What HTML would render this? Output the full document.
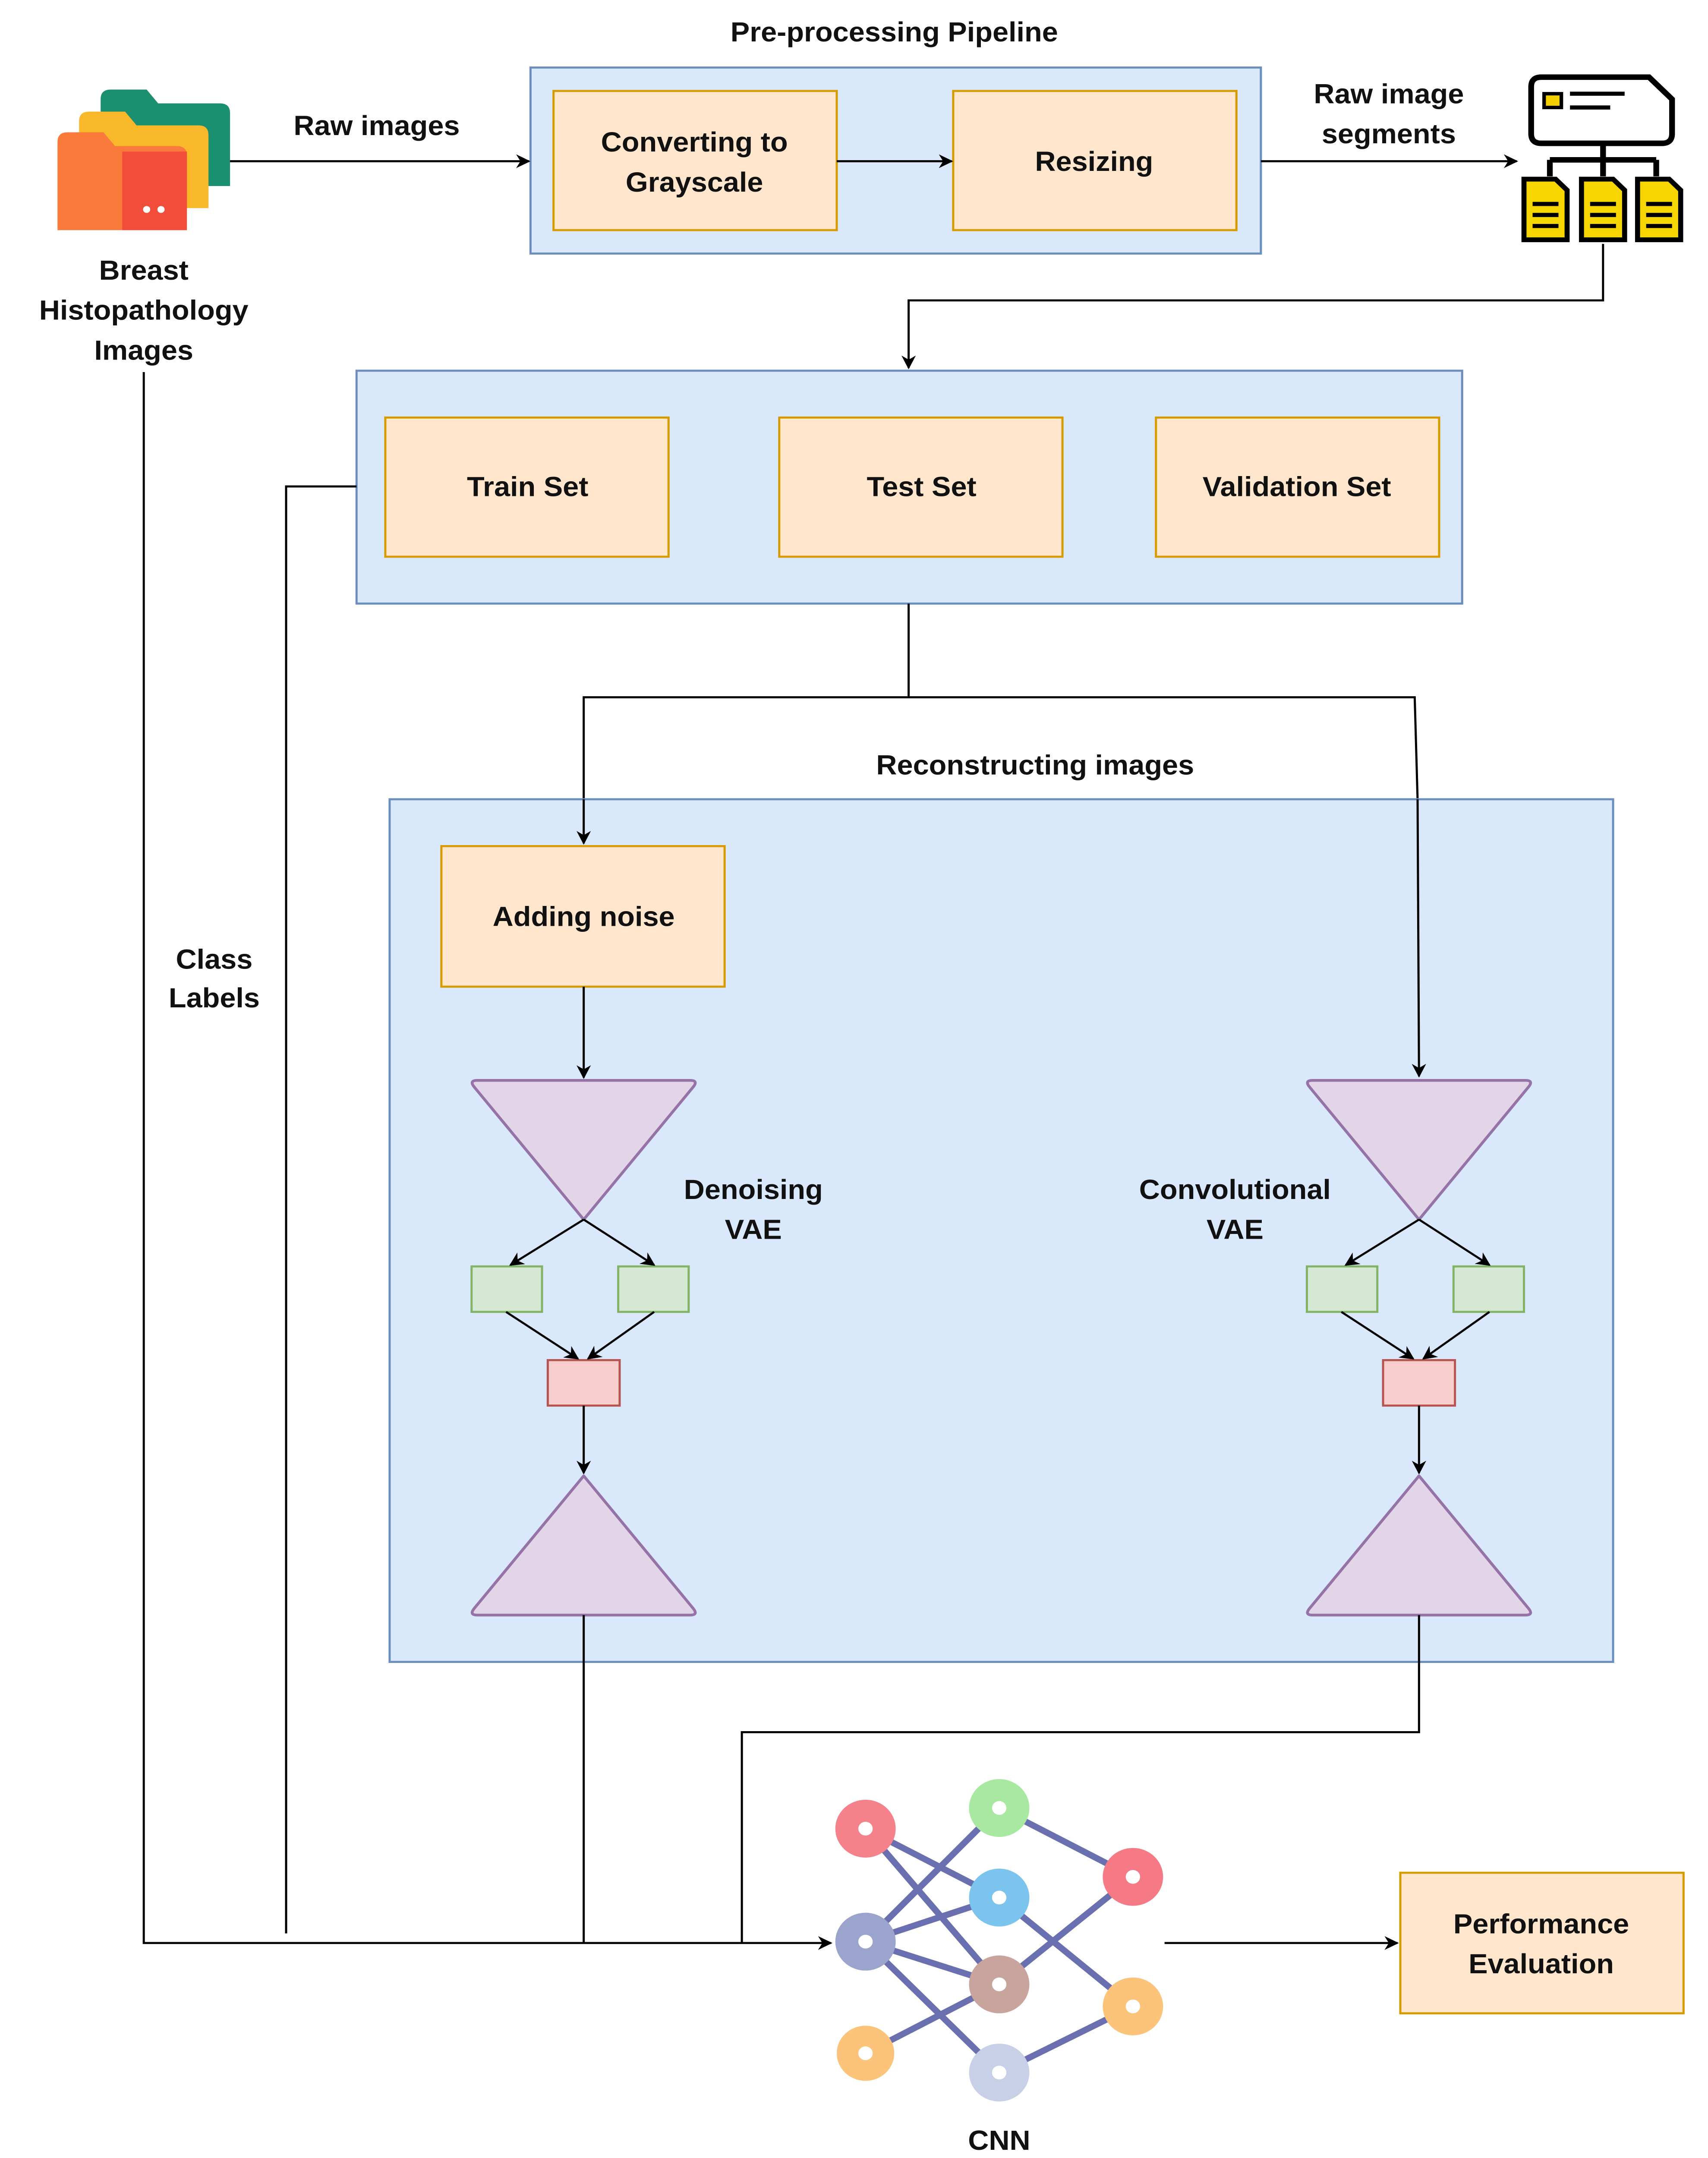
<!DOCTYPE html>
<html><head><meta charset="utf-8">
<style>
html,body{margin:0;padding:0;background:#fff;width:100%;height:100%;overflow:hidden;}
svg{display:block;position:fixed;left:0;top:0;width:100vw;height:100vh;}
text{font-family:"Liberation Sans",sans-serif;font-size:20px;font-weight:bold;fill:#111;text-anchor:middle;}
</style></head>
<body>
<svg viewBox="0 0 1188 1566" preserveAspectRatio="none" xmlns="http://www.w3.org/2000/svg">
<defs>
<marker id="a" markerWidth="10" markerHeight="10" refX="9" refY="5" orient="auto" markerUnits="userSpaceOnUse">
<path d="M0,0 L10,5 L0,10 L3,5 z" fill="#000"/>
</marker>
</defs>
<rect width="1188" height="1566" fill="#fff"/>

<text x="622" y="30">Pre-processing Pipeline</text>
<rect x="369" y="49" width="508" height="135" fill="#dae8fc" stroke="#6c8ebf" stroke-width="1.5"/>
<rect x="385" y="66" width="197" height="101" fill="#ffe6cc" stroke="#d79b00" stroke-width="1.5"/>
<text x="483" y="110">Converting to</text>
<text x="483" y="139">Grayscale</text>
<rect x="663" y="66" width="197" height="101" fill="#ffe6cc" stroke="#d79b00" stroke-width="1.5"/>
<text x="761" y="124">Resizing</text>
<line x1="582" y1="117" x2="662" y2="117" stroke="#000" stroke-width="1.5" marker-end="url(#a)"/>

<path d="M70,72 q0,-7 7,-7 h25 l8,10 h43 q7,0 7,7 v53 h-90 z" fill="#1a9070"/>
<path d="M55,88 q0,-7 7,-7 h25 l8,10 h43 q7,0 7,7 v53 h-90 z" fill="#f8b82a"/>
<path d="M40,103 q0,-7 7,-7 h25 l8,10 h43 q7,0 7,7 v54 h-90 z" fill="#fa7a3c"/>
<rect x="85" y="110" width="45" height="57" fill="#f24d3a"/>
<circle cx="102" cy="152" r="2.5" fill="#fff"/><circle cx="112" cy="152" r="2.5" fill="#fff"/>
<text x="100" y="203">Breast</text>
<text x="100" y="232">Histopathology</text>
<text x="100" y="261">Images</text>

<line x1="160" y1="117" x2="368" y2="117" stroke="#000" stroke-width="1.5" marker-end="url(#a)"/>
<text x="262" y="98">Raw images</text>
<line x1="877" y1="117" x2="1055" y2="117" stroke="#000" stroke-width="1.5" marker-end="url(#a)"/>
<text x="966" y="75">Raw image</text>
<text x="966" y="104">segments</text>

<path d="M1065,63 q0,-7 7,-7 h75 l16,16 v25 q0,7 -7,7 h-84 q-7,0 -7,-7 z" fill="#fff" stroke="#000" stroke-width="4"/>
<rect x="1074" y="68" width="12" height="10" fill="#f4d000" stroke="#000" stroke-width="2.5"/>
<line x1="1092" y1="68" x2="1130" y2="68" stroke="#000" stroke-width="3"/>
<line x1="1092" y1="78" x2="1120" y2="78" stroke="#000" stroke-width="3"/>
<path d="M1115,104 v12 M1078,116 h74 M1078,116 v12 M1115,116 v12 M1152,116 v12" stroke="#000" stroke-width="4" fill="none"/>
<g fill="#f7d600" stroke="#000" stroke-width="3.5">
<path d="M1060,130 h22 l8,8 v36 h-30 z"/>
<path d="M1100,130 h22 l8,8 v36 h-30 z"/>
<path d="M1139,130 h22 l8,8 v36 h-30 z"/>
</g>
<g stroke="#000" stroke-width="3">
<path d="M1066,148 h18 M1066,156 h18 M1066,164 h18"/>
<path d="M1106,148 h18 M1106,156 h18 M1106,164 h18"/>
<path d="M1145,148 h18 M1145,156 h18 M1145,164 h18"/>
</g>

<polyline points="1115,177 1115,218 632,218 632,267" fill="none" stroke="#000" stroke-width="1.5" marker-end="url(#a)"/>

<rect x="248" y="269" width="769" height="169" fill="#dae8fc" stroke="#6c8ebf" stroke-width="1.5"/>
<rect x="268" y="303" width="197" height="101" fill="#ffe6cc" stroke="#d79b00" stroke-width="1.5"/>
<text x="367" y="360">Train Set</text>
<rect x="542" y="303" width="197" height="101" fill="#ffe6cc" stroke="#d79b00" stroke-width="1.5"/>
<text x="641" y="360">Test Set</text>
<rect x="804" y="303" width="197" height="101" fill="#ffe6cc" stroke="#d79b00" stroke-width="1.5"/>
<text x="902" y="360">Validation Set</text>

<polyline points="632,438 632,506 406,506 406,580" fill="none" stroke="#000" stroke-width="1.5"/>
<polyline points="632,506 984,506 986,580" fill="none" stroke="#000" stroke-width="1.5"/>
<text x="720" y="562">Reconstructing images</text>

<rect x="271" y="580" width="851" height="626" fill="#dae8fc" stroke="#6c8ebf" stroke-width="1.5"/>
<polyline points="406,580 406,612" fill="none" stroke="#000" stroke-width="1.5" marker-end="url(#a)"/>
<polyline points="986,580 987,781" fill="none" stroke="#000" stroke-width="1.5" marker-end="url(#a)"/>
<rect x="307" y="614" width="197" height="102" fill="#ffe6cc" stroke="#d79b00" stroke-width="1.5"/>
<text x="406" y="672">Adding noise</text>
<line x1="406" y1="716" x2="406" y2="782" stroke="#000" stroke-width="1.5" marker-end="url(#a)"/>

<g stroke-width="2">
<path d="M332,784 h148 q6,0 2,5 l-76,96 l-76,-96 q-4,-5 2,-5 z" fill="#e1d5e7" stroke="#9673a6" stroke-linejoin="round"/>
<path d="M406,1071 l76,96 q4,5 -2,5 h-148 q-6,0 -2,-5 z" fill="#e1d5e7" stroke="#9673a6" stroke-linejoin="round"/>
<path d="M913,784 h148 q6,0 2,5 l-76,96 l-76,-96 q-4,-5 2,-5 z" fill="#e1d5e7" stroke="#9673a6" stroke-linejoin="round"/>
<path d="M987,1071 l76,96 q4,5 -2,5 h-148 q-6,0 -2,-5 z" fill="#e1d5e7" stroke="#9673a6" stroke-linejoin="round"/>
</g>
<g stroke-width="1.5">
<rect x="328" y="919" width="49" height="33" fill="#d5e8d4" stroke="#82b366"/>
<rect x="430" y="919" width="49" height="33" fill="#d5e8d4" stroke="#82b366"/>
<rect x="381" y="987" width="50" height="33" fill="#f8cecc" stroke="#b85450"/>
<rect x="909" y="919" width="49" height="33" fill="#d5e8d4" stroke="#82b366"/>
<rect x="1011" y="919" width="49" height="33" fill="#d5e8d4" stroke="#82b366"/>
<rect x="962" y="987" width="50" height="33" fill="#f8cecc" stroke="#b85450"/>
</g>
<g stroke="#000" stroke-width="1.5" marker-end="url(#a)">
<line x1="406" y1="885" x2="355" y2="918"/>
<line x1="406" y1="885" x2="455" y2="918"/>
<line x1="352" y1="952" x2="402" y2="986"/>
<line x1="455" y1="952" x2="409" y2="986"/>
<line x1="406" y1="1020" x2="406" y2="1069"/>
<line x1="987" y1="885" x2="936" y2="918"/>
<line x1="987" y1="885" x2="1036" y2="918"/>
<line x1="933" y1="952" x2="983" y2="986"/>
<line x1="1036" y1="952" x2="990" y2="986"/>
<line x1="987" y1="1020" x2="987" y2="1069"/>
</g>
<text x="524" y="870">Denoising</text>
<text x="524" y="899">VAE</text>
<text x="859" y="870">Convolutional</text>
<text x="859" y="899">VAE</text>

<polyline points="406,1172 406,1410" fill="none" stroke="#000" stroke-width="1.5"/>
<polyline points="987,1172 987,1257 516,1257 516,1410" fill="none" stroke="#000" stroke-width="1.5"/>
<polyline points="100,270 100,1410 578,1410" fill="none" stroke="#000" stroke-width="1.5" marker-end="url(#a)"/>
<polyline points="248,353 199,353 199,1403" fill="none" stroke="#000" stroke-width="1.5"/>
<rect x="112" y="680" width="75" height="58" fill="#fff"/>
<text x="149" y="703">Class</text>
<text x="149" y="731">Labels</text>

<g stroke="#6a6fb0" stroke-width="4.5">
<line x1="602" y1="1409" x2="695" y2="1312"/>
<line x1="602" y1="1409" x2="695" y2="1377"/>
<line x1="602" y1="1409" x2="695" y2="1440"/>
<line x1="602" y1="1409" x2="695" y2="1504"/>
<line x1="602" y1="1327" x2="695" y2="1377"/>
<line x1="602" y1="1327" x2="695" y2="1440"/>
<line x1="602" y1="1490" x2="695" y2="1440"/>
<line x1="695" y1="1312" x2="788" y2="1362"/>
<line x1="695" y1="1377" x2="788" y2="1456"/>
<line x1="695" y1="1440" x2="788" y2="1362"/>
<line x1="695" y1="1504" x2="788" y2="1456"/>
</g>
<g>
<circle cx="602" cy="1327" r="21" fill="#f5818a"/>
<circle cx="602" cy="1409" r="21" fill="#9aa4cc"/>
<circle cx="602" cy="1490" r="20" fill="#fbc47a"/>
<circle cx="695" cy="1312" r="21" fill="#a8e8a0"/>
<circle cx="695" cy="1377" r="21" fill="#7ac4ee"/>
<circle cx="695" cy="1440" r="21" fill="#c8a49c"/>
<circle cx="695" cy="1504" r="21" fill="#c8d0e8"/>
<circle cx="788" cy="1362" r="21" fill="#f57a86"/>
<circle cx="788" cy="1456" r="21" fill="#fbc47a"/>
</g>
<g fill="#fff">
<circle cx="602" cy="1327" r="5"/><circle cx="602" cy="1409" r="5"/><circle cx="602" cy="1490" r="5"/>
<circle cx="695" cy="1312" r="5"/><circle cx="695" cy="1377" r="5"/><circle cx="695" cy="1440" r="5"/>
<circle cx="695" cy="1504" r="5"/><circle cx="788" cy="1362" r="5"/><circle cx="788" cy="1456" r="5"/>
</g>
<text x="695" y="1560">CNN</text>

<line x1="810" y1="1410" x2="972" y2="1410" stroke="#000" stroke-width="1.5" marker-end="url(#a)"/>
<rect x="974" y="1359" width="197" height="102" fill="#ffe6cc" stroke="#d79b00" stroke-width="1.5"/>
<text x="1072" y="1403">Performance</text>
<text x="1072" y="1432">Evaluation</text>
</svg>
</body></html>
